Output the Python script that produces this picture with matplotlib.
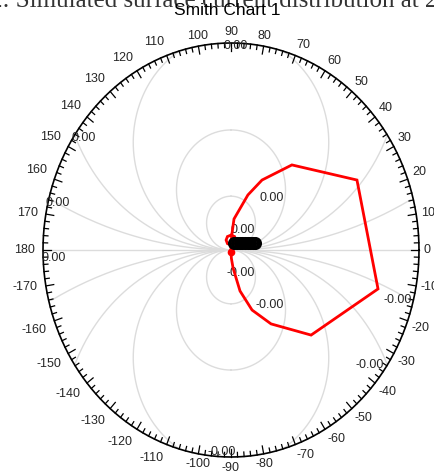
import numpy as np
import matplotlib
matplotlib.use("Agg")
import matplotlib.pyplot as plt

# ---- data ----
title_text = "Fig. 2: Simulated surface current distribution at 2.4 GHz"
title_prefix = "Fig. 2"
subtitle_text = "Smith Chart 1"

angle_labels = [0, 10, 20, 30, 40, 50, 60, 70, 80, 90, 100, 110, 120, 130, 140, 150, 160, 170,
                180, -170, -160, -150, -140, -130, -120, -110, -100, -90, -80, -70, -60, -50,
                -40, -30, -20, -10]

# grid circles through the centre (radius values, upper and lower)
grid_radii = [0.13, 0.29, 0.52, 0.9, 2.0]

# reflection-coefficient trace (real, imag)
trace_re = [0.000, 0.000, 0.019, 0.026, 0.019, 0.000, -0.019, -0.026, -0.019, 0.000,
            0.004, 0.016, 0.090, 0.165, 0.324, 0.670, 0.782, 0.426, 0.213, 0.112,
            0.048, 0.011, 0.002, 0.000]
trace_im = [-0.010, 0.024, 0.031, 0.048, 0.065, 0.072, 0.065, 0.048, 0.031, 0.024,
            0.072, 0.150, 0.266, 0.338, 0.411, 0.338, -0.188, -0.411, -0.357, -0.290,
            -0.198, -0.087, -0.040, -0.010]
start_re = [0.000]
start_im = [-0.010]

marker_re = [0.014, 0.030, 0.046, 0.060, 0.074, 0.088, 0.102, 0.116, 0.128]
marker_im = [0.034, 0.034, 0.034, 0.034, 0.034, 0.034, 0.034, 0.034, 0.034]

# grid value labels (position real, imag, text)
val_re = [0.027, -0.782, -0.920, -0.941, 0.064, 0.218, 0.053, 0.207, 0.888, 0.739, -0.048]
val_im = [0.986, 0.541, 0.227, -0.039, 0.097, 0.251, -0.111, -0.266, -0.242, -0.556, -0.976]
val_txt = ["0.00", "0.00", "0.00", "0.00", "0.00", "0.00", "-0.00", "-0.00", "-0.00", "-0.00", "-0.00"]

# ---- figure ----
W, H = 434, 473
fig = plt.figure(figsize=(W / 100, H / 100), dpi=100)
cx, cy, rx, ry = 231, 250, 188, 207
ax = fig.add_axes([(cx - rx) / W, (H - cy - ry) / H, 2 * rx / W, 2 * ry / H])
ax.set_xlim(-1, 1)
ax.set_ylim(-1, 1)
ax.set_aspect("auto")
ax.axis("off")

sans = ["Liberation Sans", "DejaVu Sans"]
grid_col = "#dcdcdc"

# horizontal axis line
ax.plot([-1, 1], [0, 0], color=grid_col, lw=1, zorder=1)

# grid circles
phi = np.linspace(-np.pi, np.pi, 721)
for R in grid_radii:
    for s in (1, -1):
        x = R * np.sin(phi)
        y = s * R * (1 - np.cos(phi))
        m = x ** 2 + y ** 2 <= 1.0
        ax.plot(np.where(m, x, np.nan), np.where(m, y, np.nan), color=grid_col, lw=1, zorder=1)

# outer circle
t = np.linspace(0, 2 * np.pi, 721)
ax.plot(np.cos(t), np.sin(t), color="black", lw=1.2, zorder=3, clip_on=False)

# ticks
for a in range(0, 360, 2):
    ar = np.deg2rad(a)
    L = 8 if a % 10 == 0 else 4.5
    c, s = np.cos(ar), np.sin(ar)
    ax.plot([c, c * (1 - L / rx)], [s, s * (1 - L / ry)], color="black", lw=0.9,
            zorder=3, clip_on=False)

# angle labels
for i, lab in enumerate(angle_labels):
    ar = np.deg2rad(i * 10)
    c, s = np.cos(ar), np.sin(ar)
    gap = 4.5 + (3.5 if c < -0.3 else 0)
    ha = "left" if c > 0.25 else ("right" if c < -0.25 else "center")
    va = "bottom" if s > 0.25 else ("top" if s < -0.25 else "center")
    ax.annotate(str(lab), (c, s), xytext=(c * gap * 0.72, s * gap * 0.72),
                textcoords="offset points", ha=ha, va=va, fontsize=9,
                family=sans, color="#262626", annotation_clip=False)

# value labels
for x, y, tx in zip(val_re, val_im, val_txt):
    ax.text(x, y, tx, fontsize=9, family=sans, ha="center", va="center",
            color="#262626", zorder=4, clip_on=False)

# trace
ax.plot(trace_re, trace_im, color="red", lw=2, zorder=5, solid_joinstyle="miter")
ax.plot(start_re, start_im, "o", color="red", ms=4.5, zorder=6)
ax.plot(marker_re, marker_im, "o", mfc="none", mec="black", mew=2.4, ms=7, zorder=6)

# titles
serif = ["Liberation Serif", "DejaVu Serif"]
renderer = fig.canvas.get_renderer()
tp = fig.text(0, 0, title_prefix, fontsize=18, family=serif)
pw = tp.get_window_extent(renderer).width
tp.remove()
fig.text((2 - pw) / W, 1 - 7 / H, title_text, fontsize=18,
         family=serif, ha="left", va="baseline", color="#333333")
fig.text(227 / W, 1 - 15 / H, subtitle_text, fontsize=12.5, family=sans,
         ha="center", va="baseline", color="black")

fig.savefig("out.png", dpi=100)
